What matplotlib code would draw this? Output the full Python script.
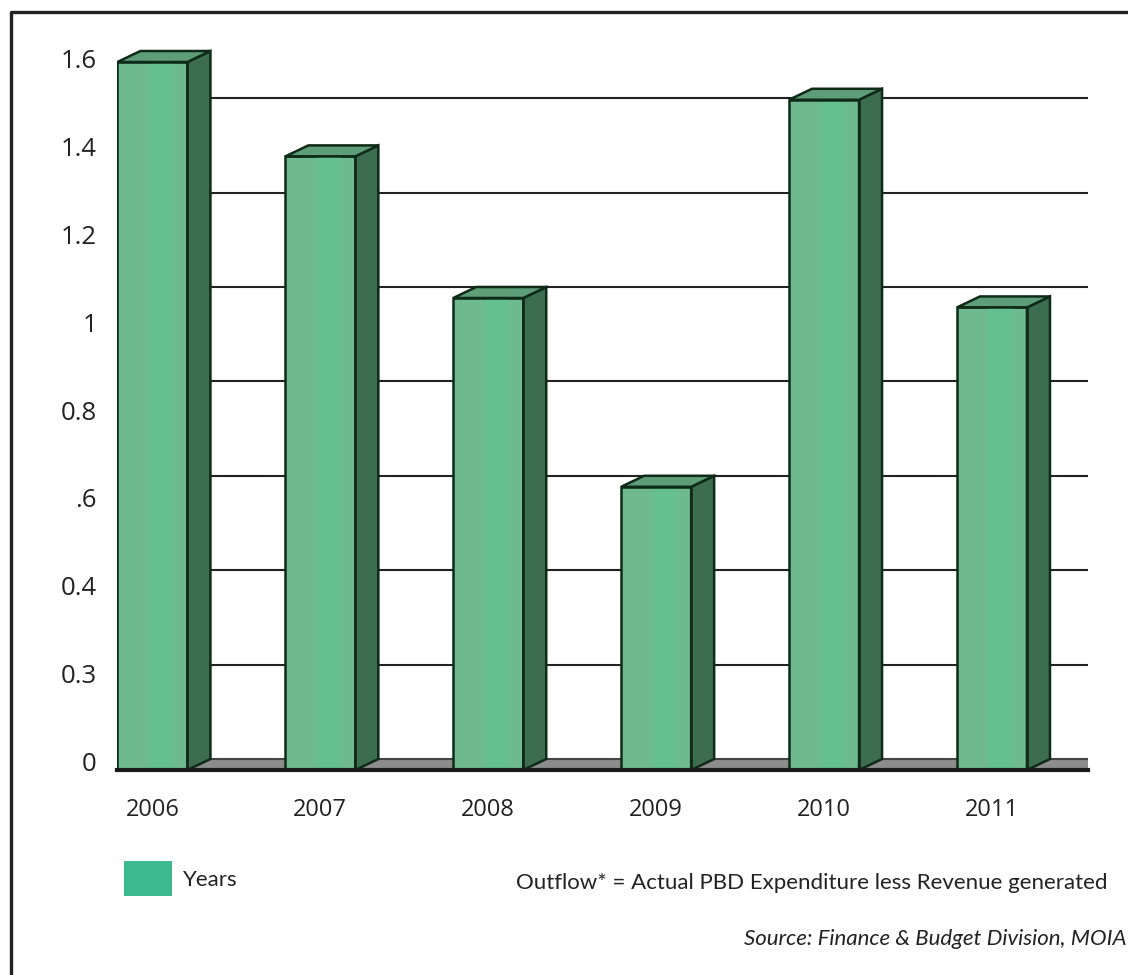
import matplotlib.pyplot as plt
from matplotlib.patches import Polygon, Rectangle
from matplotlib.lines import Line2D

W, H = 1128, 975

YEARS = ['2006', '2007', '2008', '2009', '2010', '2011']
OUTFLOW = [1.50, 1.30, 1.00, 0.60, 1.42, 0.98]
Y_TICKS = [0.0, 0.2, 0.4, 0.6, 0.8, 1.0, 1.2, 1.4, 1.6]
Y_TICK_LABELS = ['0', '0.3', '0.4', '.6', '0.8', '1', '1.2', '1.4', '1.6']
GRID_LEVELS = [0.2, 0.4, 0.6, 0.8, 1.0, 1.2, 1.4]

FRONT = '#6fb98e'
FRONT_HI = '#64c08e'
SIDE = '#3c6d4f'
TOP = '#5d9d77'
EDGE = '#0f2a18'
FLOOR = '#8c8c8c'

BAR_W = 0.417
DEPTH_PX = (23, 11)


def fx(px):
    return px / W


def fy(py):
    return 1 - py / H


fig = plt.figure(figsize=(W / 100, H / 100), dpi=100)

# plot box: front floor edge at y=770px, top of scale at ~15px
ax = fig.add_axes([fx(117), fy(770), fx(1088 - 117), (770 - 14.8) / H])
ax.set_xlim(-0.211, 5.572)
ax.set_ylim(0, 1.6)

# depth of the 3D boxes in data units
dx = DEPTH_PX[0] / (971 / (5.572 + 0.211))
dy = DEPTH_PX[1] / (755.2 / 1.6)

x_left, x_right = ax.get_xlim()

# floor
ax.add_patch(Polygon([(x_left, 0), (x_right, 0), (x_right, dy), (x_left + dx, dy)],
                     closed=True, facecolor=FLOOR, edgecolor='none', zorder=1))
ax.plot([x_left + dx, x_right], [dy, dy], color='#444444', lw=1.5, zorder=1.5)

# gridlines on the back wall
for g in GRID_LEVELS:
    ax.plot([x_left + dx, x_right], [g + dy, g + dy], color='#222222', lw=1.5, zorder=1.5)

# bars: front face, side face, top face
for i, v in enumerate(OUTFLOW):
    x0 = i - BAR_W / 2
    x1 = i + BAR_W / 2
    ax.add_patch(Rectangle((x0, 0), BAR_W, v, facecolor=FRONT, edgecolor='none', zorder=3))
    ax.add_patch(Rectangle((x0 + BAR_W * 0.45, 0), BAR_W * 0.35, v,
                           facecolor=FRONT_HI, edgecolor='none', zorder=3.1))
    ax.add_patch(Rectangle((x0, 0), BAR_W, v, facecolor='none', edgecolor=EDGE,
                           lw=1.8, zorder=3.5))
    ax.add_patch(Polygon([(x1, 0), (x1 + dx, dy), (x1 + dx, v + dy), (x1, v)],
                         closed=True, facecolor=SIDE, edgecolor=EDGE, lw=1.8, zorder=3))
    ax.add_patch(Polygon([(x0, v), (x1, v), (x1 + dx, v + dy), (x0 + dx, v + dy)],
                         closed=True, facecolor=TOP, edgecolor=EDGE, lw=1.8, zorder=3))

ax.set_xticks(range(len(YEARS)))
ax.set_xticklabels(YEARS, fontsize=17, family='Open Sans', color='#222222')
ax.tick_params(axis='x', length=0, pad=20)
ax.set_yticks([])
for s in ['left', 'right', 'top']:
    ax.spines[s].set_visible(False)
ax.spines['bottom'].set_linewidth(3)
ax.spines['bottom'].set_color('#1a1a1a')
ax.spines['bottom'].set_zorder(4)
ax.patch.set_visible(False)

# value labels sit on their own scale to the left of the bars
ax_lab = fig.add_axes(ax.get_position())
ax_lab.set_ylim(-0.0189, 1.6994)
ax_lab.set_yticks(Y_TICKS)
ax_lab.set_yticklabels(Y_TICK_LABELS, fontsize=18.5, family='Open Sans', color='#222222')
ax_lab.tick_params(axis='y', length=0, pad=14.5)
ax_lab.set_xticks([])
for s in ax_lab.spines.values():
    s.set_visible(False)
ax_lab.patch.set_visible(False)

# outer frame
fig.add_artist(Line2D([fx(11), fx(11), fx(1135)], [fy(980), fy(12), fy(12)],
                      color='#222222', lw=2.4))

# legend and notes
fig.add_artist(Rectangle((fx(124), fy(896)), fx(48), 35 / H, facecolor='#3dba8f',
                         edgecolor='none'))
fig.text(fx(183), fy(880), 'Years', fontsize=16, family='Lato', color='#222222',
         va='center', ha='left')
fig.text(fx(1108), fy(883), 'Outflow* = Actual PBD Expenditure less Revenue generated',
         fontsize=16, family='Lato', color='#222222', va='center', ha='right')
fig.text(fx(1126), fy(939), 'Source: Finance & Budget Division, MOIA',
         fontsize=16, family='Lato', style='italic', color='#222222',
         va='center', ha='right')

fig.savefig('out.png', dpi=100)
